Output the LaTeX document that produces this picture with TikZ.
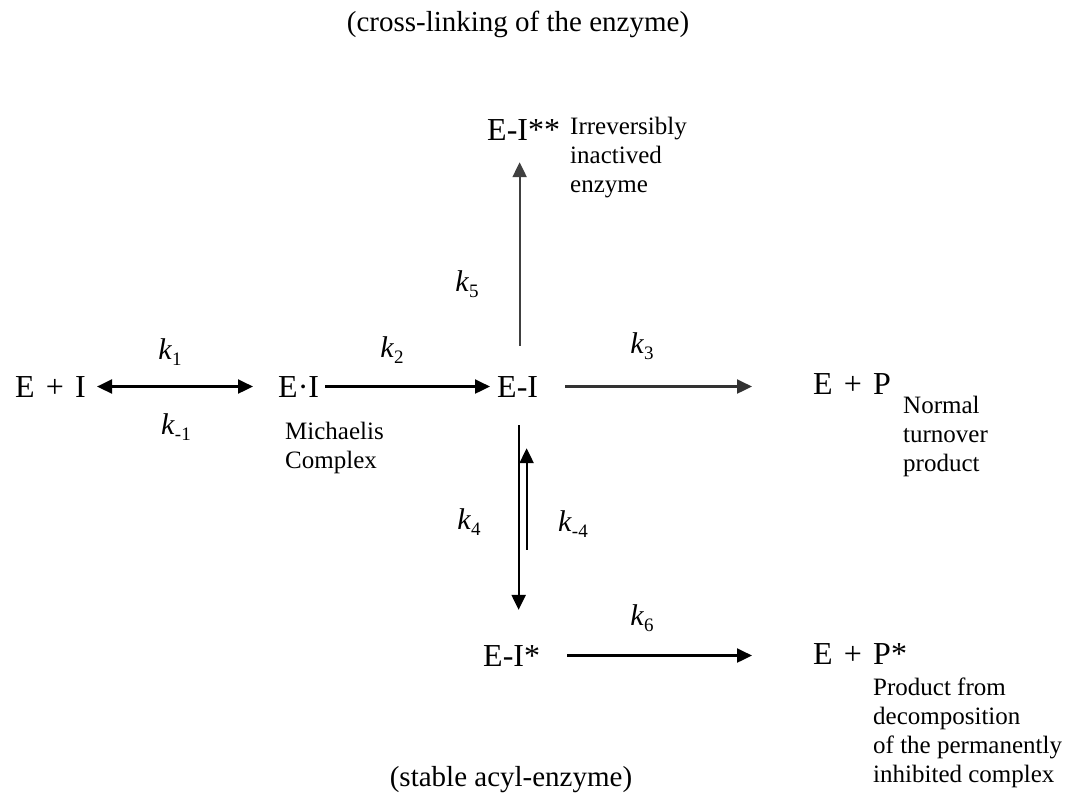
\documentclass[tikz,border=0pt]{standalone}
\usepackage{fontspec}
\setmainfont{Liberation Serif}
\usetikzlibrary{arrows.meta}
\newcommand{\kk}[1]{\textit{k}\raisebox{-0.45ex}{\fontsize{19}{19}\selectfont #1}}
\tikzset{
  main/.style={inner sep=0pt, font=\fontsize{32}{36}\selectfont},
  note/.style={inner sep=0pt, align=left, anchor=north west, font=\fontsize{25}{29}\selectfont},
  rate/.style={inner sep=0pt, font=\fontsize{30}{34}\selectfont},
  title/.style={inner sep=0pt, font=\fontsize{29}{34}\selectfont},
  arr/.style={line width=2.2pt, -{Triangle[length=15pt,width=14pt]}},
  dbl/.style={line width=2.2pt, {Triangle[length=15pt,width=14pt]}-{Triangle[length=15pt,width=14pt]}},
}
\begin{document}
\begin{tikzpicture}[x=1pt,y=-1pt]
\useasboundingbox (0,0) rectangle (1068,798);
% titles
\node[title] (top) at (518,24) {(cross-linking of the enzyme)};
\node[title] (bot) at (511,780) {(stable acyl-enzyme)};
% species
\node[main, anchor=base west] (EplusI) at (15,397) {E\hspace{0.35em}+\hspace{0.35em}I};
\node[main, anchor=base west] (EdotI) at (278,397) {E·I};
\node[main, anchor=base west] (EI) at (497,397) {E-I};
\node[main, anchor=base west] (EP) at (813,394) {E\hspace{0.35em}+\hspace{0.35em}P};
\node[main, anchor=base west] (EIss) at (487,140) {E-I**};
\node[main, anchor=base west] (EIs) at (483,666) {E-I*};
\node[main, anchor=base west] (EPs) at (813,664) {E\hspace{0.35em}+\hspace{0.35em}P*};
% notes
\node[note] (mich) at (285,422) {Michaelis\\Complex};
\node[note] (irr) at (570,117) {Irreversibly\\inactived\\enzyme};
\node[note] (norm) at (903,396) {Normal\\turnover\\product};
\node[note] (prod) at (873,678) {Product from\\decomposition\\of the permanently\\inhibited complex};
% rate constants
\node[rate] (k1) at (170,352) {\kk{1}};
\node[rate] (km1) at (176,427) {\kk{-1}};
\node[rate] (k2) at (392,350) {\kk{2}};
\node[rate] (k3) at (642,346) {\kk{3}};
\node[rate] (k5) at (467,284) {\kk{5}};
\node[rate] (k4) at (469,522) {\kk{4}};
\node[rate] (km4) at (573,524) {\kk{-4}};
\node[rate] (k6) at (642,618) {\kk{6}};
% arrows
\draw[dbl, shorten <=11pt, shorten >=25pt] (EplusI.east) -- (EdotI.west);
\draw[arr, shorten <=6pt, shorten >=7pt] (EdotI.east) -- (EI.west);
\draw[arr, black!80, shorten <=27pt, shorten >=61pt] (EI.east) -- (EI.east -| EP.west);
\draw[arr, black!75, shorten <=30pt, shorten >=22pt] ([xshift=2pt]EI.north) -- ([xshift=2pt]EI.north |- EIss.south);
\draw[arr, shorten <=28pt, shorten >=35pt] ([xshift=1pt]EI.south) -- ([xshift=1pt]EI.south |- EIs.north);
\draw[arr, shorten <=95pt, shorten >=51pt] ([xshift=15pt]EIs.north) -- ([xshift=15pt]EIs.north |- EI.south);
\draw[arr, shorten <=27pt, shorten >=61pt] (EIs.east) -- (EIs.east -| EPs.west);
\end{tikzpicture}
\end{document}
